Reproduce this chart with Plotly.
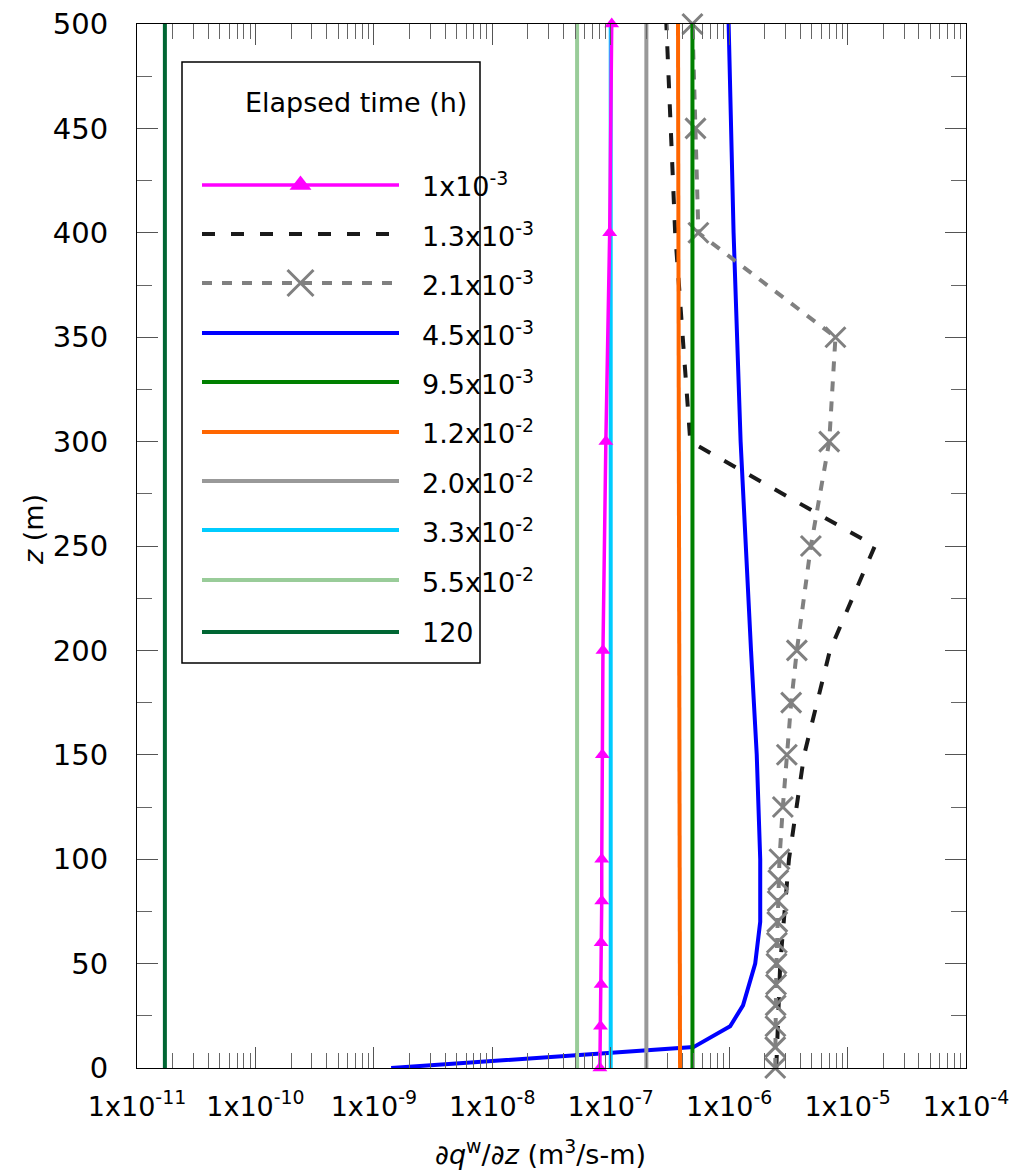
import plotly.graph_objects as go

# ---------------- data ----------------
# elevation z (m) and flux derivative dq/dz (m3/s-m) for each elapsed time
z_t1 = [0, 20, 40, 60, 80, 100, 150, 200, 300, 400, 500]
q_t1 = [8.1e-8, 8.2e-8, 8.3e-8, 8.3e-8, 8.4e-8, 8.4e-8, 8.5e-8, 8.6e-8, 9.1e-8, 9.8e-8, 1.02e-7]

z_t2 = [0, 50, 100, 150, 200, 250, 300, 400, 500]
q_t2 = [2.5e-6, 2.7e-6, 3.2e-6, 4.3e-6, 7.1e-6, 1.7e-5, 4.7e-7, 3.5e-7, 2.95e-7]

z_t3 = [0, 10, 20, 30, 40, 50, 60, 70, 80, 90, 100, 125, 150, 175, 200, 250, 300, 350, 400, 450, 500]
q_t3 = [2.45e-6, 2.45e-6, 2.46e-6, 2.47e-6, 2.49e-6, 2.51e-6, 2.53e-6, 2.55e-6, 2.57e-6, 2.6e-6,
        2.66e-6, 2.84e-6, 3.07e-6, 3.34e-6, 3.73e-6, 4.9e-6, 7.0e-6, 7.9e-6, 5.5e-7, 5.2e-7, 4.9e-7]

z_t4 = [0, 10, 20, 30, 50, 70, 100, 150, 200, 300, 400, 500]
q_t4 = [1.4e-9, 5.0e-7, 1.02e-6, 1.31e-6, 1.66e-6, 1.83e-6, 1.83e-6, 1.71e-6, 1.53e-6, 1.25e-6, 1.09e-6, 0.99e-6]

z_ends = [0, 500]
q_t5 = [4.9e-7, 4.9e-7]
q_t6 = [3.85e-7, 3.7e-7]
q_t7 = [2.0e-7, 2.0e-7]
q_t8 = [1.0e-7, 1.0e-7]
q_t9 = [5.2e-8, 5.2e-8]
q_t10 = [1.72e-11, 1.72e-11]

legend_labels = ["1x10<sup>-3</sup>", "1.3x10<sup>-3</sup>", "2.1x10<sup>-3</sup>", "4.5x10<sup>-3</sup>",
                 "9.5x10<sup>-3</sup>", "1.2x10<sup>-2</sup>", "2.0x10<sup>-2</sup>", "3.3x10<sup>-2</sup>",
                 "5.5x10<sup>-2</sup>", "120"]

x_decades = [-11, -10, -9, -8, -7, -6, -5, -4]
x_ticktext = ["1x10<sup>%d</sup>" % d for d in x_decades]
y_ticks = [0, 50, 100, 150, 200, 250, 300, 350, 400, 450, 500]

# ---------------- styles ----------------
FONT = "DejaVu Sans"
W, H = 1019, 1176
L, R, T, B = 137, 966, 24, 1068   # plot area in pixels


def fx(p):
    return (p - L) / (R - L)


def fy(p):
    return (B - p) / (B - T)


styles = [
    dict(color="#FF00FF", dash="solid", marker=dict(symbol="triangle-up", size=13, color="#FF00FF"),
         lmarker=dict(symbol="triangle-up", size=19, color="#FF00FF"), mode="lines+markers", width=3.5),
    dict(color="#1a1a1a", dash="13px,16px", marker=None, lmarker=None, mode="lines", width=4),
    dict(color="#808080", dash="10px,10px",
         marker=dict(symbol="x-thin-open", size=20, color="#808080", line=dict(width=3, color="#808080")),
         lmarker=dict(symbol="x-thin-open", size=26, color="#808080", line=dict(width=3, color="#808080")),
         mode="lines+markers", width=4),
    dict(color="#0000FF", dash="solid", marker=None, lmarker=None, mode="lines", width=4),
    dict(color="#008000", dash="solid", marker=None, lmarker=None, mode="lines", width=4),
    dict(color="#FF6600", dash="solid", marker=None, lmarker=None, mode="lines", width=4),
    dict(color="#999999", dash="solid", marker=None, lmarker=None, mode="lines", width=4),
    dict(color="#00CCFF", dash="solid", marker=None, lmarker=None, mode="lines", width=4),
    dict(color="#99CC99", dash="solid", marker=None, lmarker=None, mode="lines", width=4),
    dict(color="#006633", dash="solid", marker=None, lmarker=None, mode="lines", width=4),
]

series = [
    (q_t1, z_t1), (q_t2, z_t2), (q_t3, z_t3), (q_t4, z_t4),
    (q_t5, z_ends), (q_t6, z_ends), (q_t7, z_ends), (q_t8, z_ends), (q_t9, z_ends), (q_t10, z_ends),
]

fig = go.Figure()

# drawing order: blue, dashed curves, then vertical profiles, magenta on top
order = [3, 1, 2, 9, 8, 6, 5, 4, 7, 0]
for i in order:
    q, z = series[i]
    s = styles[i]
    kw = dict(x=q, y=z, mode=s["mode"], line=dict(color=s["color"], width=s["width"], dash=s["dash"]),
              showlegend=False, cliponaxis=False, hoverinfo="skip")
    if s["marker"] is not None:
        kw["marker"] = s["marker"]
    fig.add_trace(go.Scatter(**kw))

# ---------------- custom legend box ----------------
box_l, box_r, box_t, box_b = 182, 480, 62, 663
sample_l, sample_r = 202, 399
row_y = [185, 234, 283, 333, 382, 432, 481, 530, 580, 632]

fig.add_shape(type="rect", xref="paper", yref="paper",
              x0=fx(box_l), x1=fx(box_r), y0=fy(box_b), y1=fy(box_t),
              line=dict(color="black", width=1.5), fillcolor="white", layer="below")
fig.add_annotation(x=fx(243), y=fy(103), xref="paper", yref="paper", text="Elapsed time (h)",
                   xanchor="left", yanchor="middle",
                   showarrow=False, font=dict(family=FONT, size=27, color="black"))

for i, (lab, yy) in enumerate(zip(legend_labels, row_y)):
    s = styles[i]
    fig.add_trace(go.Scatter(x=[fx(sample_l), fx(sample_r)], y=[fy(yy), fy(yy)], mode="lines",
                             line=dict(color=s["color"], width=s["width"], dash=s["dash"]),
                             xaxis="x2", yaxis="y2", showlegend=False, hoverinfo="skip"))
    if s["lmarker"] is not None:
        fig.add_trace(go.Scatter(x=[fx((sample_l + sample_r) / 2)], y=[fy(yy)], mode="markers",
                                 marker=s["lmarker"], xaxis="x2", yaxis="y2",
                                 showlegend=False, hoverinfo="skip"))
    fig.add_annotation(x=fx(420), y=fy(yy), xref="paper", yref="paper", text=lab, xanchor="left",
                       yanchor="middle", showarrow=False, font=dict(family=FONT, size=27, color="black"))

# ---------------- axis titles ----------------
fig.add_annotation(x=fx(540), y=fy(1152), xref="paper", yref="paper",
                   text="\u2202<i>q</i><sup>w</sup>/\u2202<i>z</i> (m<sup>3</sup>/s-m)",
                   xanchor="center", yanchor="middle",
                   showarrow=False, font=dict(family=FONT, size=27, color="black"))
fig.add_annotation(x=fx(33), y=fy(530), xref="paper", yref="paper", text="<i>z</i> (m)",
                   xanchor="center", yanchor="middle",
                   textangle=-90, showarrow=False, font=dict(family=FONT, size=27, color="black"))

minor_x = [m * 10.0 ** d for d in x_decades[:-1] for m in range(2, 10)]

fig.update_layout(
    width=W, height=H,
    margin=dict(l=L, r=W - R, t=T, b=H - B, pad=0, autoexpand=False),
    paper_bgcolor="white", plot_bgcolor="white",
    font=dict(family=FONT, size=28, color="black"),
    xaxis=dict(type="log", range=[-11, -4], tickmode="array",
               tickvals=[10.0 ** d for d in x_decades], ticktext=x_ticktext,
               ticks="inside", ticklen=21, tickwidth=1, tickcolor="#555",
               showline=True, linecolor="black", linewidth=1.2, mirror="ticks",
               showgrid=False, zeroline=False, ticklabelstandoff=14, automargin=False,
               tickfont=dict(family=FONT, size=27),
               minor=dict(tickmode="array", tickvals=minor_x, ticks="inside", ticklen=15,
                          tickwidth=1, tickcolor="#666", showgrid=False)),
    yaxis=dict(range=[0, 500], tickmode="array", tickvals=y_ticks,
               ticks="inside", ticklen=21, tickwidth=1, tickcolor="#555",
               showline=True, linecolor="black", linewidth=1.2, mirror="ticks",
               showgrid=False, zeroline=False, ticklabelstandoff=22, automargin=False,
               tickfont=dict(family=FONT, size=29),
               minor=dict(dtick=25, ticks="inside", ticklen=15, tickwidth=1,
                          tickcolor="#666", showgrid=False)),
    xaxis2=dict(overlaying="x", anchor="y2", range=[0, 1], visible=False, fixedrange=True),
    yaxis2=dict(overlaying="y", anchor="x2", range=[0, 1], visible=False, fixedrange=True),
    showlegend=False,
)

fig.write_html("out.html")
